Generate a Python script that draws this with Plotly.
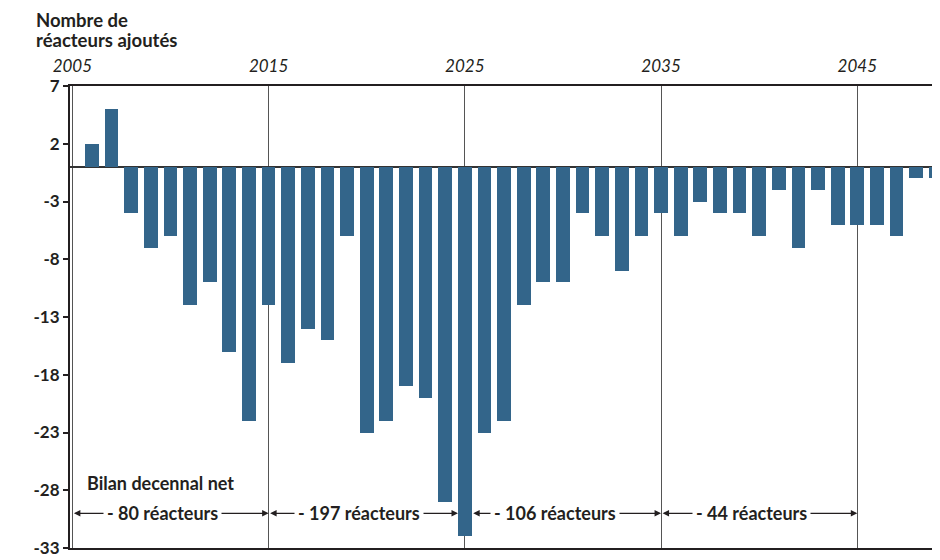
import plotly.graph_objects as go

# ---- data ----
years = list(range(2006, 2050))
net_added = [2, 5, -4, -7, -6, -12, -10, -16, -22, -12,
             -17, -14, -15, -6, -23, -22, -19, -20, -29, -32,
             -23, -22, -12, -10, -10, -4, -6, -9, -6, -4,
             -6, -3, -4, -4, -6, -2, -7, -2, -5, -5,
             -5, -6, -1, -1]
decade_bounds = [2005, 2015, 2025, 2035, 2045]
decade_totals = [-80, -197, -106, -44]
y_ticks = [7, 2, -3, -8, -13, -18, -23, -28, -33]
x_ticks = [2005, 2015, 2025, 2035, 2045]

BAR_W = 0.7
DARK = "#231f20"
BLUE = "#33658a"
FONT = "Lato, 'Open Sans', sans-serif"
ARROW_Y = -30

# the page body adds an 8px offset; figure is sized to fill the rest
FIG_W, FIG_H = 932, 552
ML, MT, MR, MB = 62, 78, 1, 12
PH = FIG_H - MT - MB  # plot height in px
PW = FIG_W - ML - MR


def py(px):
    """paper y for a pixel row measured from the top of the figure div"""
    return (FIG_H - MB - px) / PH


def pxx(px):
    return (px - ML) / PW


fig = go.Figure()
fig.add_trace(go.Bar(x=years, y=net_added, width=BAR_W,
                     marker=dict(color=BLUE, line=dict(width=0)),
                     hoverinfo="skip"))

fig.update_layout(
    width=FIG_W, height=FIG_H, autosize=False,
    margin=dict(l=ML, r=MR, t=MT, b=MB),
    paper_bgcolor="white", plot_bgcolor="white",
    showlegend=False, bargap=0,
    font=dict(family=FONT, color=DARK),
)

fig.update_xaxes(
    range=[2004.88, 2049.06], side="top",
    tickvals=x_ticks, ticktext=[str(v) for v in x_ticks],
    ticks="", ticklabelstandoff=5,
    tickfont=dict(family=FONT, size=17, style="italic", color=DARK),
    showgrid=True, gridcolor="#555555", gridwidth=1,
    showline=True, linecolor=DARK, linewidth=2, mirror=True,
    zeroline=False,
)
fig.update_yaxes(
    range=[-33, 7], tickvals=y_ticks, ticktext=[str(v) for v in y_ticks],
    ticks="outside", ticklen=5, tickwidth=1.5, tickcolor=DARK,
    ticklabelstandoff=0,
    tickfont=dict(family=FONT, size=17, weight="bold", color=DARK),
    showgrid=False,
    showline=True, linecolor=DARK, linewidth=2, mirror=True,
    zeroline=True, zerolinecolor="#333333", zerolinewidth=2,
)

annotations = []
# axis title (two lines)
annotations.append(dict(text="Nombre de", xref="paper", yref="paper",
                        x=pxx(26), y=py(12), xanchor="left", yanchor="middle",
                        showarrow=False, font=dict(size=18.5, weight="bold", color=DARK)))
annotations.append(dict(text="réacteurs ajoutés", xref="paper", yref="paper",
                        x=pxx(26), y=py(32), xanchor="left", yanchor="middle",
                        showarrow=False, font=dict(size=18.5, weight="bold", color=DARK)))

annotations.append(dict(text="Bilan decennal net", xref="x", yref="y",
                        x=decade_bounds[0], y=-27.4, xanchor="left", yanchor="middle",
                        xshift=13, showarrow=False,
                        font=dict(size=18, weight="bold", color=DARK)))

# decade arrows
for i, total in enumerate(decade_totals):
    x0, x1 = decade_bounds[i], decade_bounds[i + 1]
    # keep arrows clear of the bar sitting on 2025
    if x1 == 2025:
        x1 = x1 - BAR_W / 2
    if x0 == 2025:
        x0 = x0 + BAR_W / 2
    annotations.append(dict(text="", xref="x", yref="y", axref="x", ayref="y",
                            x=x1, y=ARROW_Y, ax=x0, ay=ARROW_Y,
                            showarrow=True, arrowhead=2, arrowside="end+start",
                            arrowsize=1, arrowwidth=1.3, arrowcolor=DARK,
                            standoff=0, startstandoff=0))
for i, total in enumerate(decade_totals):
    mid = (decade_bounds[i] + decade_bounds[i + 1]) / 2
    annotations.append(dict(text=f"- {abs(total)} réacteurs", xref="x", yref="y",
                            x=mid, y=ARROW_Y, xshift=-8, showarrow=False,
                            bgcolor="white", borderpad=3,
                            font=dict(size=18, weight="bold", color=DARK)))

annotations.append(dict(text="Source : IAEA-PRIS", xref="paper", yref="paper",
                        x=pxx(810), y=py(547),
                        xanchor="left", yanchor="top", showarrow=False,
                        font=dict(size=13, style="italic", color=DARK)))

fig.update_layout(annotations=annotations)

fig.write_html("out.html", config={"displayModeBar": False})
